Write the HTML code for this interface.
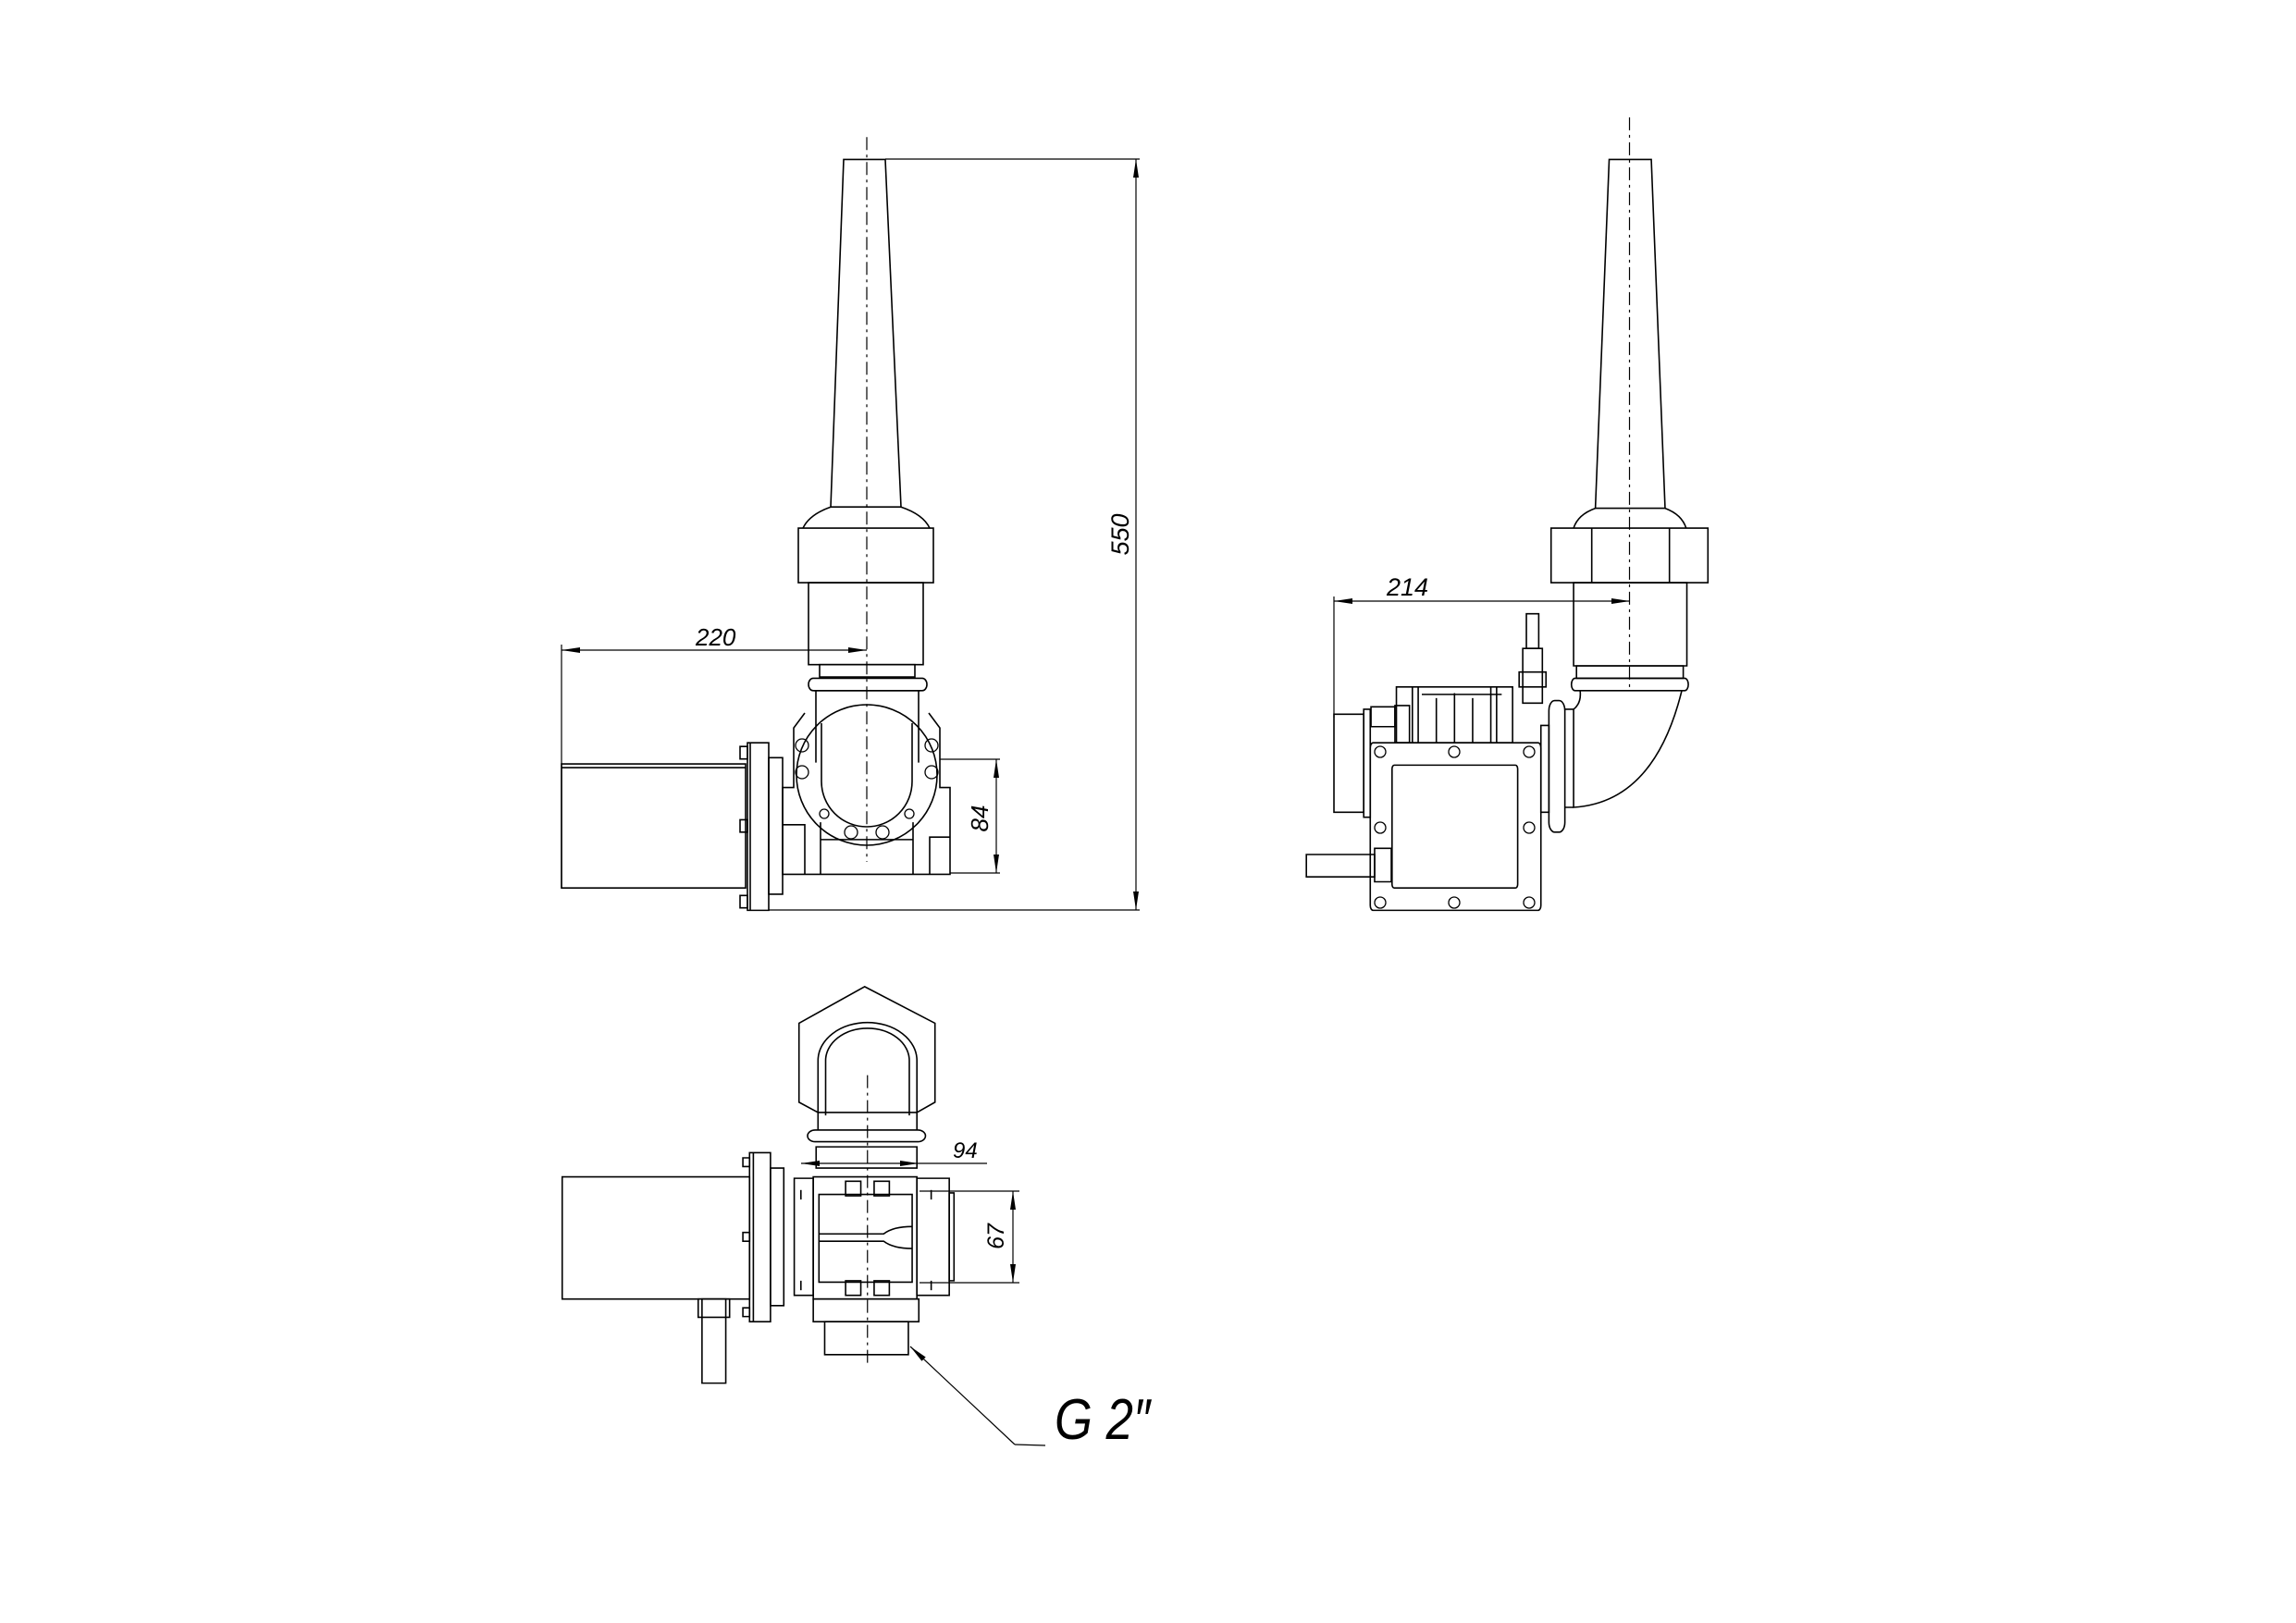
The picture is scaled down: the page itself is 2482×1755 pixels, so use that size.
<!DOCTYPE html>
<html><head><meta charset="utf-8"><style>html,body{margin:0;padding:0;background:#fff}svg{display:block}svg *{vector-effect:non-scaling-stroke}</style></head><body>
<svg width="2482" height="1755" viewBox="0 0 2482 1755" xmlns="http://www.w3.org/2000/svg" fill="none" stroke="#000" stroke-width="1.6" font-family="Liberation Sans, sans-serif">
<defs><marker id="a" viewBox="0 0 20 6" refX="20" refY="3" markerWidth="20" markerHeight="6" orient="auto-start-reverse" markerUnits="userSpaceOnUse"><path d="M0,0 L20,3 L0,6z" fill="#000" stroke="none"/></marker></defs>

<!-- ===== VIEW 1 (front) ===== -->
<g transform="translate(0,100) scale(1,1.342) translate(0,-100)">
<line x1="937" y1="136" x2="937" y2="720" stroke-dasharray="14,5,3,5" stroke-width="1.2"/>
<path d="M912,154 L957,154 L974,434 L898,434 Z"/>
<path d="M898,434 Q875,440 868,451 M974,434 Q998,440 1005,451"/>
<rect x="863" y="451" width="146" height="44"/>
<rect x="874" y="495" width="124" height="66"/>
<rect x="886" y="561" width="103" height="10"/>
<rect x="874" y="572" width="128" height="10" rx="5"/>
<path d="M880,582 L995,582 M882,582 L882,640 M993,582 L993,640"/>
<path d="M870,600 L858,612 L858,660 L846,660 L846,730 L1027,730 L1027,660 L1016,660 L1016,612 L1004,600"/>
<path d="M887,688 L887,730 M987,688 L987,730 M887,702 L987,702"/>
<path d="M846,690 L870,690 L870,730 M1027,700 L1005,700 L1005,730"/>
<rect x="607" y="641" width="199" height="100"/>
<line x1="607" y1="644" x2="806" y2="644"/>
<rect x="808" y="624" width="23" height="135"/>
<line x1="811" y1="624" x2="811" y2="759"/>
<rect x="831" y="636" width="15" height="110"/>
<rect x="800" y="627" width="8" height="10"/><rect x="800" y="686" width="8" height="10"/><rect x="800" y="747" width="8" height="10"/>
</g>
<circle cx="937" cy="838" r="76"/>
<path d="M888,782 L888,845 A49,49 0 0 0 986,845 L986,782"/>
<g stroke-width="1.3">
<circle cx="867" cy="806" r="7"/><circle cx="1007" cy="806" r="7"/>
<circle cx="867" cy="835" r="7"/><circle cx="1007" cy="835" r="7"/>
<circle cx="920" cy="900" r="7"/><circle cx="954" cy="900" r="7"/>
<circle cx="891" cy="880" r="5"/><circle cx="983" cy="880" r="5"/>
</g>
<line x1="607" y1="697" x2="607" y2="960" stroke-width="1.2"/>
<line x1="607" y1="703" x2="937" y2="703" stroke-width="1.2" marker-start="url(#a)" marker-end="url(#a)"/>
<text x="752" y="698" stroke="none" fill="#000" font-size="26" font-style="italic">220</text>
<line x1="957" y1="172" x2="1232" y2="172" stroke-width="1.2"/>
<line x1="831" y1="984" x2="1232" y2="984" stroke-width="1.2"/>
<line x1="1228" y1="172" x2="1228" y2="984" stroke-width="1.2" marker-start="url(#a)" marker-end="url(#a)"/>
<text x="0" y="0" stroke="none" fill="#000" font-size="27" font-style="italic" text-anchor="middle" transform="translate(1220,578) rotate(-90)">550</text>
<line x1="1016" y1="821" x2="1081" y2="821" stroke-width="1.2"/>
<line x1="1027" y1="944" x2="1081" y2="944" stroke-width="1.2"/>
<line x1="1077" y1="821" x2="1077" y2="944" stroke-width="1.2" marker-start="url(#a)" marker-end="url(#a)"/>
<text x="0" y="0" stroke="none" fill="#000" font-size="26" font-style="italic" text-anchor="middle" transform="translate(1068,885) rotate(-90)">84</text>

<!-- ===== VIEW 2 (side) ===== -->
<g transform="translate(1380,100) scale(0.785,1.342) translate(-1380,-100)">
<line x1="1866" y1="120" x2="1866" y2="580" stroke-dasharray="14,5,3,5" stroke-width="1.2"/>
<path d="M1838,154 L1896,154 L1915,435 L1819,435 Z"/>
<path d="M1819,435 Q1795,440 1789,451 M1915,435 Q1938,440 1944,451"/>
<rect x="1758" y="451" width="216" height="44"/>
<line x1="1814" y1="451" x2="1814" y2="495"/><line x1="1921" y1="451" x2="1921" y2="495"/>
<rect x="1789" y="495" width="156" height="67"/>
<rect x="1793" y="562" width="147" height="10"/>
<rect x="1786" y="572" width="161" height="10" rx="5"/>
<path d="M1798,582 Q1800,592 1789,597 L1789,676 Q1900,672 1938,582"/>
<path d="M1777,597 L1789,597 M1777,676 L1789,676"/>
<rect x="1755" y="590" width="22" height="106" rx="8"/>
<rect x="1744" y="610" width="11" height="70"/>
<rect x="1509" y="624" width="235" height="135" rx="4"/>
<rect x="1539" y="642" width="173" height="99" rx="3"/>
<rect x="1459" y="601" width="41" height="79"/>
<rect x="1500" y="597" width="9" height="87"/>
<rect x="1421" y="714" width="94" height="18"/>
<rect x="1515" y="709" width="23" height="27"/>
<rect x="1543" y="594" width="20" height="30"/>
<rect x="1510" y="595" width="33" height="16"/>
<rect x="1545" y="579" width="160" height="45"/>
<path d="M1567,579 L1567,624 M1575,579 L1575,624 M1600,588 L1600,624 M1625,584 L1625,624 M1650,588 L1650,624 M1675,579 L1675,624 M1683,579 L1683,624 M1580,585 L1690,585"/>
<rect x="1719" y="548" width="27" height="44"/>
<rect x="1724" y="520" width="17" height="28"/>
<rect x="1714" y="567" width="37" height="12"/>
</g>
<g stroke-width="1.3">
<circle cx="1492" cy="813" r="6"/><circle cx="1572" cy="813" r="6"/><circle cx="1653" cy="813" r="6"/>
<circle cx="1492" cy="895" r="6"/><circle cx="1653" cy="895" r="6"/>
<circle cx="1492" cy="976" r="6"/><circle cx="1572" cy="976" r="6"/><circle cx="1653" cy="976" r="6"/>
</g>
<line x1="1442" y1="645" x2="1442" y2="776" stroke-width="1.2"/>
<line x1="1442" y1="650" x2="1762" y2="650" stroke-width="1.2" marker-start="url(#a)" marker-end="url(#a)"/>
<text x="1499" y="644" stroke="none" fill="#000" font-size="27" font-style="italic">214</text>

<!-- ===== VIEW 3 (top) ===== -->
<g transform="translate(580,1040) scale(1.028,0.791) translate(-580,-1040)">
<line x1="928" y1="1195" x2="928" y2="1590" stroke-dasharray="14,5,3,5" stroke-width="1.2"/>
<path d="M925,1074 L999,1124 L999,1232 L980,1246 L876,1246 L856,1232 L856,1124 Z"/>
<path d="M876,1270 L876,1175 A52,52 0 0 1 980,1175 L980,1270"/>
<path d="M884,1250 L884,1175 A44,44 0 0 1 972,1175 L972,1250"/>
<rect x="865" y="1270" width="124" height="16" rx="8"/>
<rect x="874" y="1293" width="106" height="29"/>
<rect x="871" y="1334" width="109" height="167"/>
<rect x="851" y="1336" width="20" height="160"/>
<rect x="980" y="1336" width="34" height="160"/>
<rect x="1014" y="1356" width="5" height="120"/>
<rect x="877" y="1358" width="98" height="120"/>
<path d="M877,1412 L945,1412 Q955,1402 975,1402 M877,1422 L945,1422 Q955,1432 975,1432"/>
<rect x="905" y="1340" width="16" height="20"/><rect x="935" y="1340" width="16" height="20"/>
<rect x="905" y="1476" width="16" height="20"/><rect x="935" y="1476" width="16" height="20"/>
<rect x="871" y="1501" width="111" height="31"/>
<rect x="883" y="1532" width="88" height="45"/>
<line x1="858" y1="1352" x2="858" y2="1365"/><line x1="995" y1="1352" x2="995" y2="1365"/>
<line x1="858" y1="1476" x2="858" y2="1489"/><line x1="995" y1="1476" x2="995" y2="1489"/>
<rect x="607" y="1334" width="197" height="167"/>
<rect x="804" y="1301" width="22" height="231"/>
<line x1="808" y1="1301" x2="808" y2="1532"/>
<rect x="826" y="1322" width="14" height="188"/>
<rect x="797" y="1308" width="7" height="12"/><rect x="797" y="1410" width="7" height="12"/><rect x="797" y="1513" width="7" height="12"/>
<rect x="754" y="1501" width="25" height="115"/>
<rect x="750" y="1501" width="33" height="25"/>
</g>
<line x1="866" y1="1258" x2="993" y2="1258" stroke-width="1.2" marker-start="url(#a)" marker-end="url(#a)"/>
<line x1="993" y1="1258" x2="1067" y2="1258" stroke-width="1.2"/>
<text x="1030" y="1252" stroke="none" fill="#000" font-size="24" font-style="italic">94</text>
<line x1="994" y1="1288" x2="1102" y2="1288" stroke-width="1.2"/>
<line x1="994" y1="1387" x2="1102" y2="1387" stroke-width="1.2"/>
<line x1="1095" y1="1288" x2="1095" y2="1387" stroke-width="1.2" marker-start="url(#a)" marker-end="url(#a)"/>
<text x="0" y="0" stroke="none" fill="#000" font-size="25" font-style="italic" text-anchor="middle" transform="translate(1085,1337) rotate(-90)">67</text>
<line x1="1130" y1="1563" x2="1097" y2="1562" stroke-width="1.2"/>
<line x1="1097" y1="1562" x2="984" y2="1456" stroke-width="1.2" marker-end="url(#a)"/>
<text x="1140" y="1556" stroke="none" fill="#000" font-size="62" font-style="italic" transform="translate(1140,0) scale(0.85,1) translate(-1140,0)">G 2″</text>
</svg>
</body></html>
